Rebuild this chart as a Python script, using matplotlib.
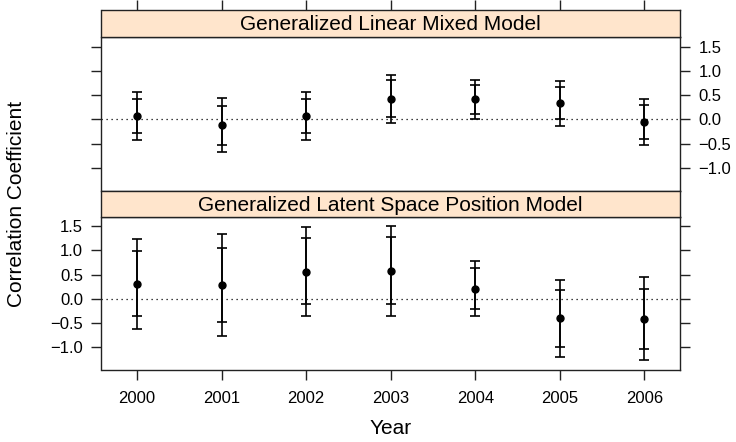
import matplotlib
matplotlib.use("Agg")
import matplotlib.pyplot as plt
import numpy as np

plt.rcParams["font.family"] = ["Liberation Sans", "DejaVu Sans"]
plt.rcParams["font.size"] = 12

years = [2000, 2001, 2002, 2003, 2004, 2005, 2006]

# Generalized Linear Mixed Model
glmm_est = [0.07, -0.12, 0.07, 0.42, 0.41, 0.33, -0.06]
glmm_in_lo = [-0.28, -0.53, -0.28, 0.05, 0.10, 0.00, -0.40]
glmm_in_hi = [0.42, 0.28, 0.42, 0.81, 0.70, 0.66, 0.29]
glmm_out_lo = [-0.42, -0.68, -0.42, -0.08, 0.00, -0.13, -0.53]
glmm_out_hi = [0.56, 0.44, 0.56, 0.92, 0.81, 0.79, 0.42]

# Generalized Latent Space Position Model
glspm_est = [0.30, 0.28, 0.56, 0.57, 0.21, -0.41, -0.42]
glspm_in_lo = [-0.37, -0.49, -0.12, -0.11, -0.21, -1.00, -1.05]
glspm_in_hi = [0.98, 1.06, 1.25, 1.27, 0.64, 0.18, 0.21]
glspm_out_lo = [-0.62, -0.78, -0.37, -0.37, -0.37, -1.21, -1.28]
glspm_out_hi = [1.24, 1.34, 1.49, 1.51, 0.79, 0.39, 0.45]

yticks = [-1.0, -0.5, 0.0, 0.5, 1.0, 1.5]
ytick_labels = [f"{v:.1f}".replace("-", "\u2212") for v in yticks]

W, H = 736, 442
fig = plt.figure(figsize=(W / 100, H / 100), dpi=100)

left, right = 101.5 / W, 680 / W
frame_col = "#222222"
strip_col = "#ffe5cc"
big = 15


def fig_box(top_px, bottom_px):
    return [left, 1 - bottom_px / H, right - left, (bottom_px - top_px) / H]


def draw_panel(ax, est, in_lo, in_hi, out_lo, out_hi):
    x = np.array(years)
    est = np.array(est)
    ax.axhline(0, color="black", linestyle=(0, (1, 3)), lw=0.9, zorder=1)
    ax.errorbar(x, est, yerr=[est - np.array(out_lo), np.array(out_hi) - est],
                fmt="none", ecolor="black", elinewidth=1.2, capsize=3.6,
                capthick=1.2, zorder=2)
    ax.errorbar(x, est, yerr=[est - np.array(in_lo), np.array(in_hi) - est],
                fmt="none", ecolor="black", elinewidth=1.2, capsize=3.6,
                capthick=1.2, zorder=2)
    ax.plot(x, est, "o", color="black", markersize=5, zorder=3)
    ax.set_xlim(1999.58, 2006.42)
    ax.set_ylim(-1.48, 1.70)
    ax.set_yticks(yticks)
    ax.set_xticks(years)
    for s in ax.spines.values():
        s.set_color(frame_col)
        s.set_linewidth(1.0)
    ax.tick_params(length=7.2, width=1.0, color=frame_col, pad=6)


def draw_strip(box, text):
    sax = fig.add_axes(box)
    sax.set_facecolor(strip_col)
    sax.set_xlim(1999.58, 2006.42)
    sax.set_ylim(0, 1)
    sax.set_yticks([])
    sax.text(0.5, 0.45, text, transform=sax.transAxes, ha="center",
             va="center", fontsize=big)
    for s in sax.spines.values():
        s.set_color(frame_col)
        s.set_linewidth(1.0)
    return sax


# top panel: GLMM
ax1 = fig.add_axes(fig_box(37, 191))
draw_panel(ax1, glmm_est, glmm_in_lo, glmm_in_hi, glmm_out_lo, glmm_out_hi)
ax1.tick_params(axis="x", bottom=False, labelbottom=False)
ax1.tick_params(axis="y", left=True, labelleft=False, right=True, labelright=True)
ax1.set_yticklabels(ytick_labels)

s1 = draw_strip(fig_box(10, 37), "Generalized Linear Mixed Model")
s1.set_xticks(years)
s1.tick_params(axis="x", bottom=False, labelbottom=False, top=True,
               labeltop=False, length=7.2, width=1.0, color=frame_col)

# bottom panel: GLSPM
ax2 = fig.add_axes(fig_box(216.7, 370))
draw_panel(ax2, glspm_est, glspm_in_lo, glspm_in_hi, glspm_out_lo, glspm_out_hi)
ax2.tick_params(axis="x", bottom=True, labelbottom=True, top=False)
ax2.tick_params(axis="y", left=True, labelleft=True, right=True, labelright=False)
ax2.set_yticklabels(ytick_labels)
ax2.set_xticklabels([str(y) for y in years])
ax2.tick_params(axis="x", pad=8)

s2 = draw_strip(fig_box(191, 216.7), "Generalized Latent Space Position Model")
s2.set_xticks([])

fig.text(17 / W, 1 - 204 / H, "Correlation Coefficient", rotation=90,
         ha="center", va="center", fontsize=big)
fig.text((left + right) / 2, 1 - 429 / H, "Year", ha="center", va="center",
         fontsize=big)

fig.savefig("out.png", dpi=100)
